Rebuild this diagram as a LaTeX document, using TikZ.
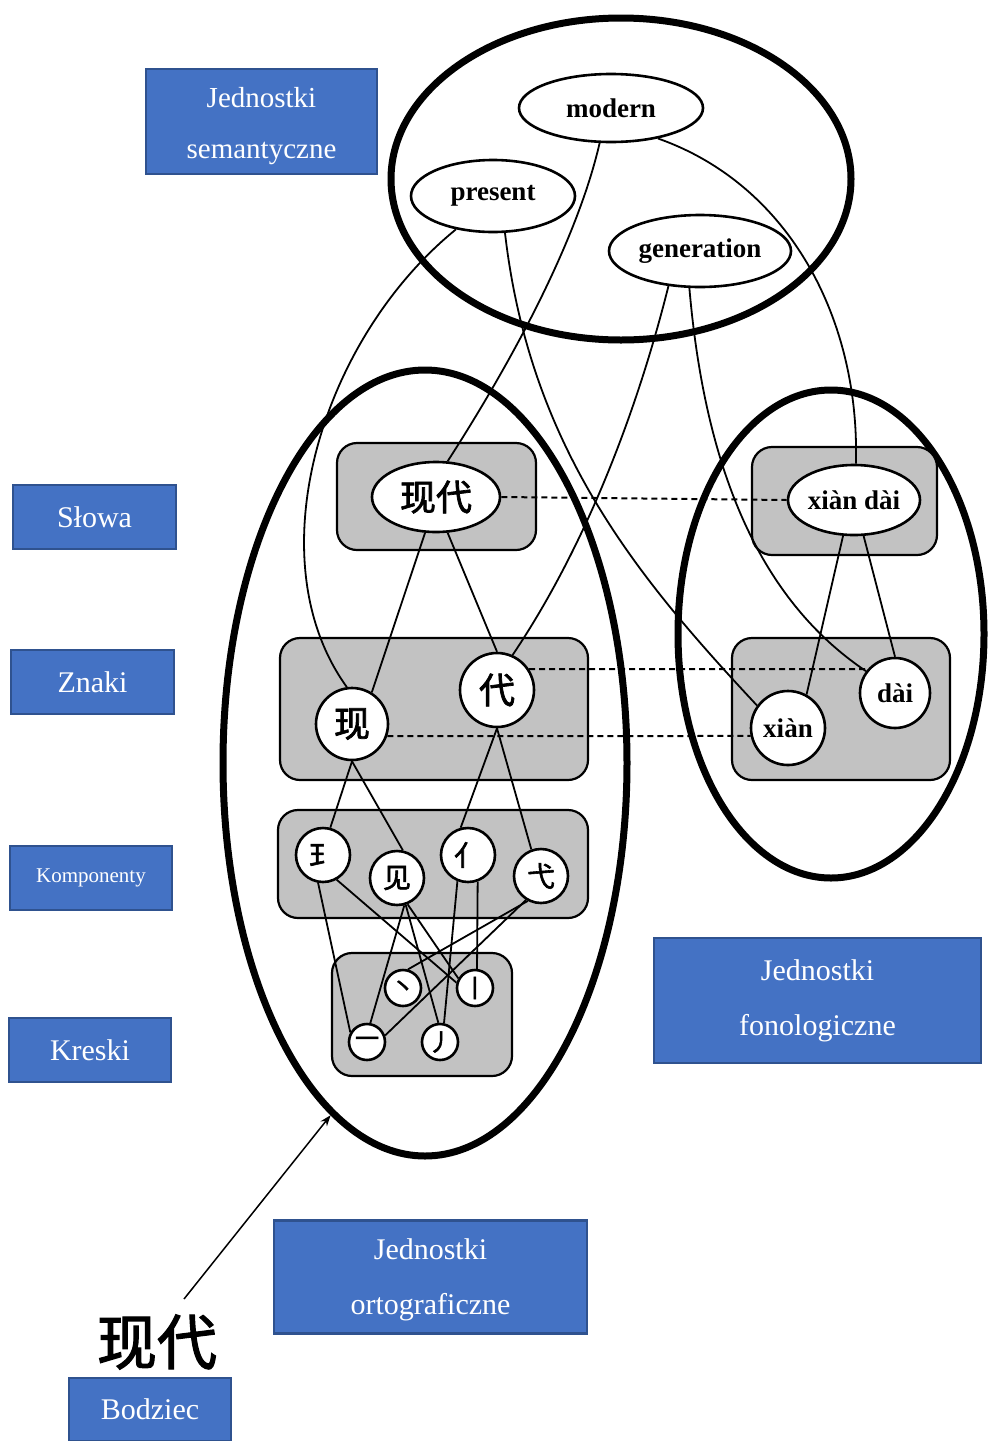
\documentclass[tikz,border=0pt]{standalone}
\usepackage{fontspec}
\setmainfont{Liberation Serif}
\newfontfamily\cjk{Noto Sans CJK SC}
\newfontfamily\cjkbold{Noto Sans CJK SC}[FakeBold=2]
\usetikzlibrary{shapes.geometric, arrows.meta}
\definecolor{lblue}{HTML}{4472C4}
\definecolor{lborder}{HTML}{2F528F}
\tikzset{
  bluebox/.style={draw=lborder, line width=2.5pt, fill=lblue, text=white, inner sep=0pt,
    font=\fontsize{30}{55}\selectfont, align=center},
  bluetext/.style={text=white, inner sep=0pt, align=center},
  bigell/.style={ellipse, draw, line width=7pt, inner sep=0pt},
  grayb/.style={draw, line width=2.2pt, fill=black!24, rounded corners=20pt, inner sep=0pt},
  sell/.style={ellipse, draw, line width=2.6pt, fill=white, inner sep=0pt},
  scirc/.style={circle, draw, line width=2.6pt, fill=white, inner sep=0pt},
  semtext/.style={font=\fontsize{27}{30}\selectfont\bfseries},
  pintext/.style={font=\fontsize{27}{30}\selectfont\bfseries},
  conn/.style={line width=1.8pt},
  dline/.style={line width=2pt, dash pattern=on 6pt off 4pt},
}
\begin{document}
\begin{tikzpicture}[x=1pt, y=-1pt]
\useasboundingbox (0,0) rectangle (988,1441);

% big ellipses
\node[bigell, minimum width=460pt, minimum height=322pt] (sem) at (621,179) {};
\node[bigell, minimum width=404pt, minimum height=786pt] (ortho) at (425,763) {};
\node[bigell, minimum width=306pt, minimum height=488pt] (phon) at (831,634) {};

% gray boxes
\node[grayb, minimum width=199pt, minimum height=107pt] (wbox) at (436.5,496.5) {};
\node[grayb, minimum width=308pt, minimum height=142pt] (cbox) at (434,709) {};
\node[grayb, minimum width=310pt, minimum height=108pt] (kbox) at (433,864) {};
\node[grayb, minimum width=180pt, minimum height=123pt] (sbox) at (422,1014.5) {};
\node[grayb, minimum width=185pt, minimum height=108pt] (pwbox) at (844.5,501) {};
\node[grayb, minimum width=218pt, minimum height=142pt] (pcbox) at (841,709) {};

% semantic nodes
\node[sell, semtext, minimum width=184pt, minimum height=68pt] (modern) at (611,108) {modern};
\node[sell, semtext, minimum width=164pt, minimum height=72pt] (present) at (493,196) {present};
\node[sell, semtext, minimum width=182pt, minimum height=72pt] (generation) at (700,251) {generation};

% orthographic nodes
\node[sell, minimum width=128pt, minimum height=70pt, font=\cjkbold\fontsize{36}{36}\selectfont] (w) at (436,497) {现代};
\node[scirc, minimum size=72pt, font=\cjkbold\fontsize{36}{36}\selectfont] (c1) at (352,724) {现};
\node[scirc, minimum size=74pt, font=\cjkbold\fontsize{36}{36}\selectfont] (c2) at (497,690) {代};
\node[scirc, minimum size=54pt, font=\cjkbold\fontsize{28}{28}\selectfont] (k1) at (323,855) {⺩};
\node[scirc, minimum size=54pt, font=\cjkbold\fontsize{28}{28}\selectfont] (k2) at (397,878) {见};
\node[scirc, minimum size=54pt, font=\cjkbold\fontsize{28}{28}\selectfont] (k3) at (468,855) {亻};
\node[scirc, minimum size=54pt, font=\cjkbold\fontsize{28}{28}\selectfont] (k4) at (541,876) {弋};
\node[scirc, minimum size=36pt, font=\cjkbold\fontsize{24}{24}\selectfont] (s1) at (403,988) {丶};
\node[scirc, minimum size=36pt, font=\cjkbold\fontsize{24}{24}\selectfont] (s2) at (475,988) {丨};
\node[scirc, minimum size=36pt, font=\cjkbold\fontsize{24}{24}\selectfont] (s3) at (367,1042) {一};
\node[scirc, minimum size=36pt, font=\cjkbold\fontsize{24}{24}\selectfont] (s4) at (440,1042) {丿};

% phonological nodes
\node[sell, pintext, minimum width=132pt, minimum height=70pt] (pw) at (854,500) {xiàn dài};
\node[scirc, pintext, minimum size=70pt] (pd) at (895,693) {dài};
\node[scirc, pintext, minimum size=74pt] (px) at (788,728) {xiàn};

% stimulus
\node[font=\cjkbold\fontsize{60}{60}\selectfont, inner sep=2pt] (stim) at (157,1342) {现代};
\coordinate (stimtop) at (184,1299);

% labels
\node[bluebox, minimum width=231pt, minimum height=105pt] (semL) at (261.5,121.5) {};
\node[bluetext, font=\fontsize{29}{51}\selectfont] (semT) at (261.5,126) {Jednostki\\semantyczne};
\node[bluebox, minimum width=163pt, minimum height=64pt] (slowa) at (94.5,517) {Słowa};
\node[bluebox, minimum width=163pt, minimum height=64pt] (znaki) at (92.5,682) {Znaki};
\node[bluebox, minimum width=162pt, minimum height=64pt, font=\fontsize{21}{25}\selectfont] (komp) at (91,878) {Komponenty};
\node[bluebox, minimum width=162pt, minimum height=64pt] (kreski) at (90,1050) {Kreski};
\node[bluebox, minimum width=327pt, minimum height=125pt] (fonL) at (817.5,1000.5) {Jednostki\\fonologiczne};
\node[bluebox, minimum width=313pt, minimum height=113pt] (ortL) at (430.5,1277) {};
\node[bluetext, font=\fontsize{30}{55}\selectfont] (ortT) at (430.5,1280) {Jednostki\\ortograficzne};
\node[bluebox, minimum width=162pt, minimum height=63pt] (bodz) at (150,1409.5) {Bodziec};

% semantic connectors
\draw[conn] (modern.252) .. controls (575,250) and (500,380) .. (w.72);
\draw[conn] (modern.-33) .. controls (790,185) and (860,320) .. (pw.87);
\draw[conn] (present.222) .. controls (320,340) and (255,560) .. (c1.98);
\draw[conn] (present.-72) .. controls (530,450) and (640,580) .. (px.144);
\draw[conn] (generation.228) .. controls (640,400) and (590,540) .. (c2.66);
\draw[conn] (generation.-106) .. controls (705,470) and (760,600) .. (pd.143);

% word -> characters
\draw[conn] (w.253) -- (c1.58);
\draw[conn] (w.-72) -- (c2.north);
\draw[conn] (pw.253) -- (px.61);
\draw[conn] (pw.-75) -- (pd.north);

% characters -> components
\draw[conn] (c1.south) -- (k1.75);
\draw[conn] (c1.south) -- (k2.78);
\draw[conn] (c2.south) -- (k3.105);
\draw[conn] (c2.south) -- (k4.110);

% components -> strokes
\draw[conn] (k1.-100) -- (s3.150);
\draw[conn] (k1.-61) -- (s2.164);
\draw[conn] (k2.-75) -- (s3.80);
\draw[conn] (k2.-72) -- (s4.95);
\draw[conn] (k2.-68) -- (s2.150);
\draw[conn] (k3.-70) -- (s2.84);
\draw[conn] (k3.-112) -- (s4.78);
\draw[conn] (k4.-118) -- (s1.75);
\draw[conn] (k4.-122) -- (s3.20);

% dashed correspondences
\draw[dline] (w.east) -- (pw.west);
\draw[dline] (c2.33) -- (pd.139);
\draw[dline] (c1.-19) -- (px.192);

% stimulus arrow
\draw[line width=1.5pt, -{Stealth[length=11pt,width=8pt]}] (stimtop) -- (ortho.255);
\end{tikzpicture}
\end{document}
